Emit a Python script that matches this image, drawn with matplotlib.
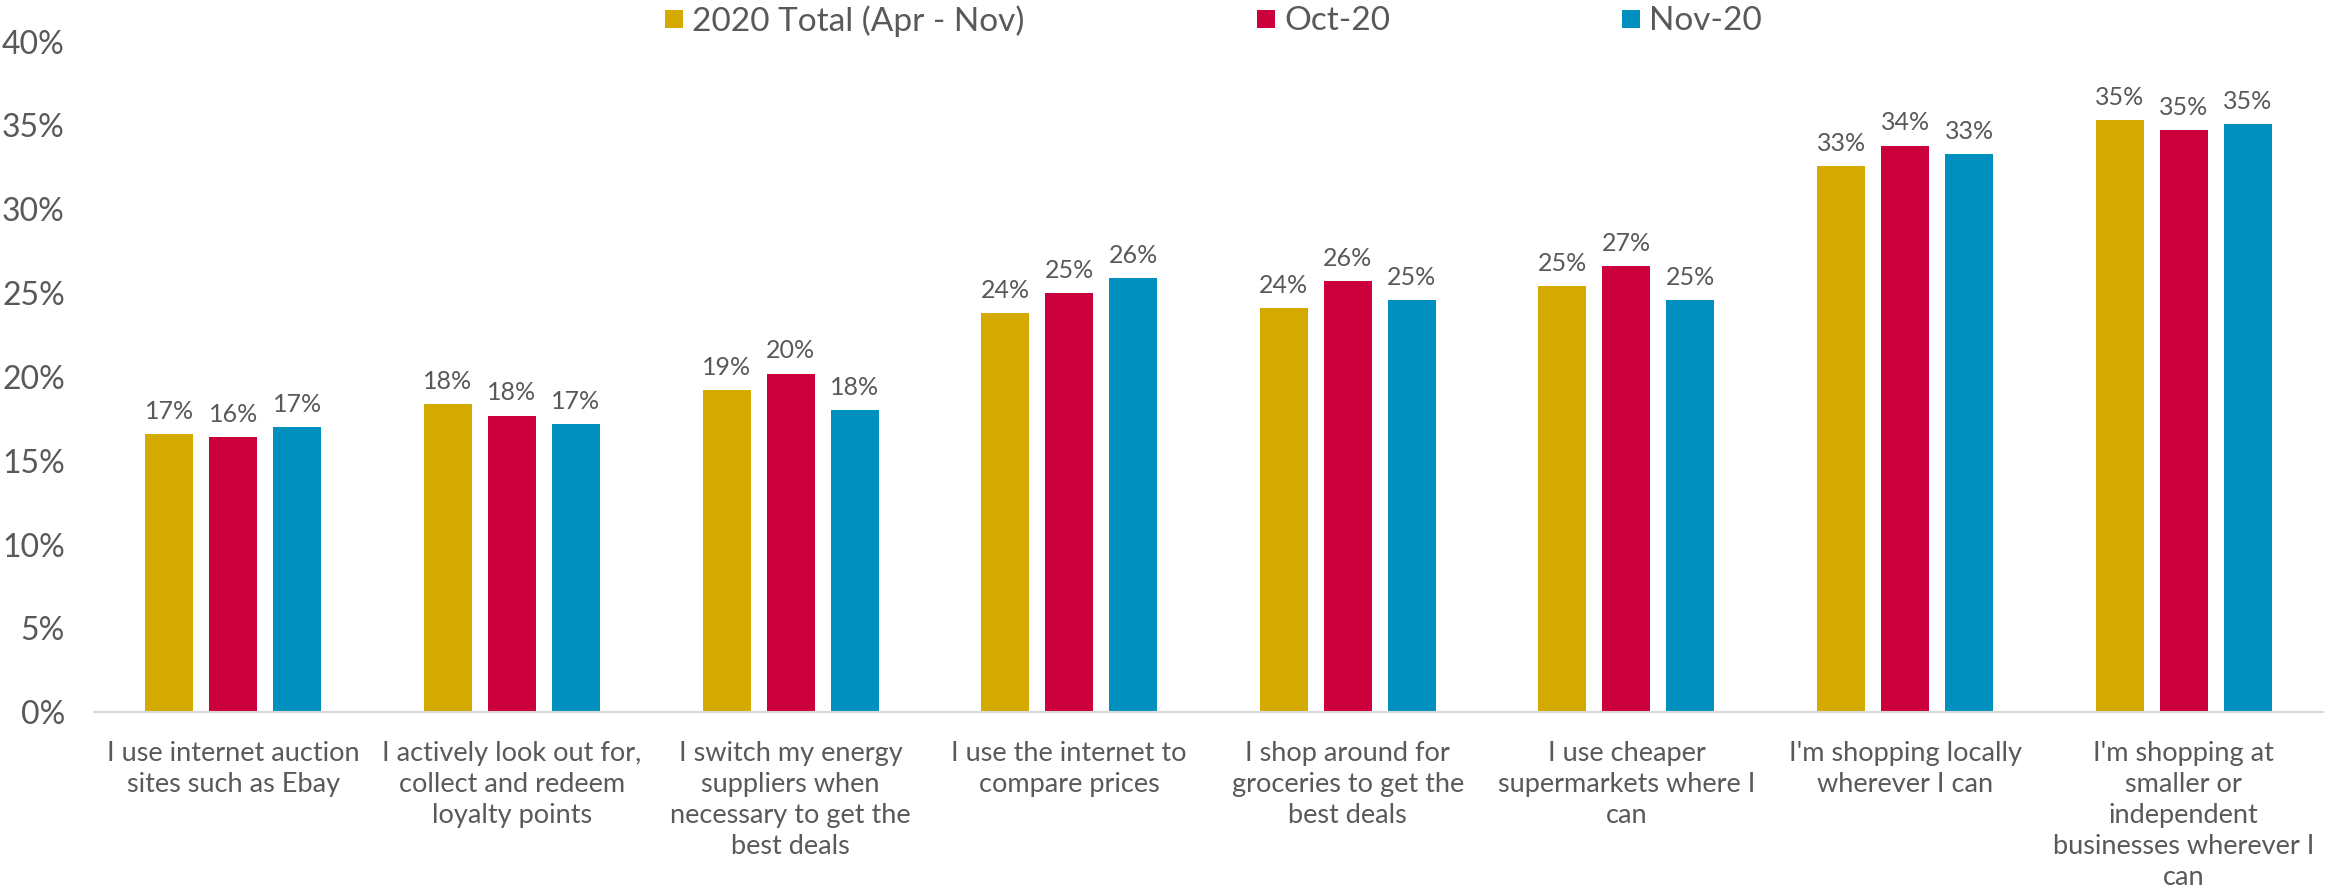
import matplotlib
matplotlib.use("Agg")
import matplotlib.pyplot as plt
import numpy as np
from matplotlib.patches import Patch

categories = [
    "I use internet auction\nsites such as Ebay",
    "I actively look out for,\ncollect and redeem\nloyalty points",
    "I switch my energy\nsuppliers when\nnecessary to get the\nbest deals",
    "I use the internet to\ncompare prices",
    "I shop around for\ngroceries to get the\nbest deals",
    "I use cheaper\nsupermarkets where I\ncan",
    "I'm shopping locally\nwherever I can",
    "I'm shopping at\nsmaller or\nindependent\nbusinesses wherever I\ncan",
]
series_names = ["2020 Total (Apr - Nov)", "Oct-20", "Nov-20"]
total_2020 = [16.6, 18.4, 19.2, 23.8, 24.1, 25.4, 32.6, 35.3]
oct_20 = [16.4, 17.7, 20.2, 25.0, 25.7, 26.6, 33.8, 34.7]
nov_20 = [17.0, 17.2, 18.0, 25.9, 24.6, 24.6, 33.3, 35.1]
yticks = [0, 5, 10, 15, 20, 25, 30, 35, 40]

colors = ["#D4AA00", "#CC003D", "#0090C0"]
text_color = "#595959"

plt.rcParams["font.family"] = ["Lato", "DejaVu Sans"]

fig = plt.figure(figsize=(23.3, 8.91), dpi=100)
ax = fig.add_axes([94 / 2330, 1 - 712.3 / 891, (2323 - 94) / 2330, (712.3 - 41.6) / 891])

x = np.arange(len(categories))
width = 0.172
step = 0.2297
all_series = [total_2020, oct_20, nov_20]
for i, (vals, c, name) in enumerate(zip(all_series, colors, series_names)):
    bars = ax.bar(x + (i - 1) * step, vals, width=width, color=c, label=name, zorder=2)
    ax.bar_label(bars, labels=[f"{round(v):d}%" for v in vals], padding=8,
                 fontsize=18, color=text_color)

ax.set_xlim(-0.5, len(categories) - 0.5)
ax.set_ylim(0, 40)
ax.set_yticks(yticks)
ax.set_yticklabels([f"{t}%" for t in yticks])
ax.set_xticks(x)
ax.set_xticklabels(categories, fontsize=19.5, color=text_color, linespacing=1.3)
ax.tick_params(axis="x", length=0, pad=21)
ax.tick_params(axis="y", length=0, pad=21, labelsize=23, labelcolor=text_color)
for s in ["top", "right", "left"]:
    ax.spines[s].set_visible(False)
ax.spines["bottom"].set_color("#D9D9D9")
ax.spines["bottom"].set_linewidth(1.5)

legend_x = [665, 1257, 1622]
for name, c, lx in zip(series_names, colors, legend_x):
    fig.legend(handles=[Patch(facecolor=c, edgecolor="none")], labels=[name],
               loc="center left", bbox_to_anchor=(lx / 2330, 1 - 21.5 / 891),
               frameon=False, fontsize=24, labelcolor=text_color,
               handlelength=0.54, handleheight=0.45, handletextpad=0.27,
               borderpad=0, borderaxespad=0)

fig.savefig("out.png", dpi=100)
